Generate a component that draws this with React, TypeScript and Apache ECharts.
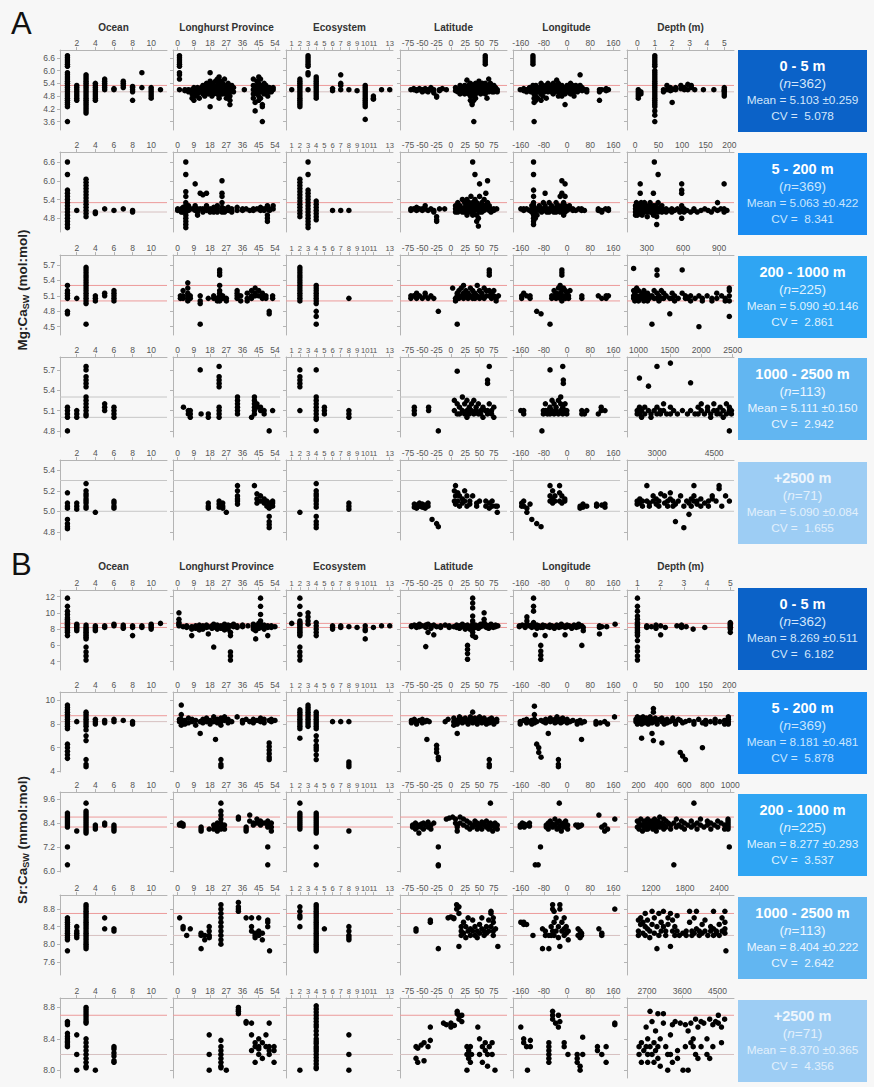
import React, { useEffect, useRef } from 'react';
import * as echarts from 'echarts';

// ---------- DATA (groups: [x, y1, y2, ...]) ----------
// Panel A : Mg:Ca_sw (mol:mol)
const A1_ocean = [[1,6.7,6.6,6.5,6.4,6.3,6.2,5.9,5.8,5.7,5.6,5.5,5.4,5.3,5.2,5.1,5.0,4.9,4.8,4.7,4.6,4.5,4.4,4.3,3.6],[2,5.3,5.2,5.1,5.0,4.9,4.8,4.7,4.6],[3,5.8,5.7,5.6,5.5,5.4,5.3,5.2,5.1,5.0,4.9,4.8,4.7,4.6,4.5,4.4,4.3,4.2,4.1,4.0],[4,5.4,5.3,5.2,5.1,5.0,4.9,4.8,4.7,4.6],[5,5.6,5.5,5.4,5.3,5.2,5.1],[6,5.15,5.1],[7,5.5,5.4,5.3,5.2],[8,5.25,5.2,5.1,5.0,4.6],[9,5.9,5.2],[10,5.2,5.1,5.0,4.9,4.8,4.7],[11,5.1]];
const A1_longhurst = [[1,6.7,6.6,6.5,6.4,6.3,6.2,5.9,5.8,5.6,5.1],[4,5.1,5.05],[6,5.0,5.1],[8,5.1,5.0,4.9,4.7],[9,5.2,5.1,5.0,4.6],[10,5.15,5.0,4.8],[11,5.2,5.1,4.9],[12,5.1,5.0,4.7],[13,5.2,5.1,5.0],[14,5.3,5.1,4.9],[15,5.2,5.0,4.8],[16,5.4,5.1,5.0],[17,5.3,5.2,5.0,4.9],[18,5.9,5.5,5.3,5.1,5.0,4.3],[19,5.4,5.2,5.0,4.8],[20,5.3,5.1,4.9],[21,5.5,5.2,5.0],[22,5.6,5.3,5.1,4.9],[23,5.7,5.5,5.4,5.3,5.2,5.1,5.0,4.9,4.8,4.7],[24,5.5,5.2,5.0],[25,5.4,5.1,4.9],[26,5.6,5.3,5.0],[27,5.3,5.1,4.9,4.7],[28,5.4,5.2,5.0],[29,5.2,5.0,4.8,4.6,4.4],[30,5.3,5.1],[31,5.2,5.0],[37,5.1],[42,5.6,5.3,5.1,4.9,4.7],[43,5.2,5.0,4.5,4.1],[44,5.5,5.3,5.1,4.9],[45,5.7,5.4,5.2,5.0,4.8,4.6],[46,5.6,5.3,5.1,5.0,4.7],[47,5.2,5.0,4.4,4.3,3.6],[48,5.4,5.2,5.1,4.9],[49,5.3,5.1,5.0],[50,5.2,5.1,4.8],[51,5.2,5.0],[52,5.1,5.0],[53,5.2,5.1]];
const A1_ecosystem = [[1,5.1],[2,5.6,5.5,5.4,5.3,5.2,5.1,5.0,4.9,4.8,4.7,4.6,4.5,4.4,4.3],[3,6.7,6.6,6.5,6.4,6.3,6.2,5.9,5.8,5.1],[4,5.7,5.6,5.5,5.4,5.3,5.2,5.1,5.0,4.9,4.8,4.7],[6,5.15,5.05],[7,5.8,5.4,5.3,5.1],[8,5.1],[9,5.05],[10,5.3,5.2,5.1,5.0,4.9,4.8,4.7,4.6,4.5,4.4,4.3,3.7],[11,4.8,4.7,4.65],[12,5.1],[13,5.1]];
const A1_latitude = [[-70,5.1],[-65,5.15,5.1],[-60,5.1,5.05],[-55,5.15,5.1],[-50,5.1,5.0],[-45,5.15,5.05],[-40,5.1,5.0],[-35,5.2,5.1],[-30,5.1,4.95],[-25,4.8,4.75],[-20,5.1,5.05],[-15,5.15],[-8,5.1],[8,5.2,5.05],[12,5.1,5.0],[16,5.3,5.1,4.9],[20,5.2,5.0],[24,5.3,5.1,4.9],[28,5.55,5.2,5.0],[31,5.3,5.1,4.9],[34,5.4,5.2,5.0,4.8,4.6],[37,5.3,5.1,4.9,4.5,4.4],[40,5.2,5.0,4.8,4.6,3.6],[43,5.4,5.1,4.9,4.7],[46,5.3,5.2,5.0],[49,5.5,5.2,5.0],[52,5.3,5.1,4.9],[55,5.4,5.2,5.0],[58,5.2,5.1],[60,6.7,6.6,6.5,6.4,6.3,5.4,5.2,5.1,4.9],[63,5.3,5.1,4.7],[66,5.6,5.2,5.0],[69,5.4,5.1],[72,5.2,5.0],[75,5.3,5.1,5.0],[78,5.2,5.1],[81,5.1,5.0]];
const A1_longitude = [[-162,5.1],[-150,5.15,5.05],[-140,5.1,5.0],[-130,5.2,5.1],[-125,5.1,5.0],[-118,6.7,6.6,6.5,6.4,6.3,5.3,5.1,5.0],[-114,5.2,4.9,4.7,4.5,3.6],[-108,5.3,5.1,4.8,4.6],[-102,5.1,5.0,4.7],[-96,5.2,5.0],[-90,5.4,5.1,4.9,4.6],[-84,5.3,5.1,4.8],[-78,5.2,5.0],[-72,5.3,5.1,4.7],[-66,5.4,5.2,5.0],[-60,5.3,5.1],[-54,5.2,5.0],[-48,5.4,5.1,4.9],[-42,5.3,5.1,5.0],[-36,5.55,5.3,5.1],[-30,5.4,5.2,5.0,4.8],[-24,5.2,5.1],[-18,5.3,5.0,4.8],[-12,5.2,5.1],[-7,5.1,4.9,4.4],[0,5.3,5.1,5.0],[6,5.2,5.0],[12,5.4,5.1,4.9],[18,5.3,5.1],[24,5.2,5.0,4.8],[30,5.3,5.1],[36,5.2,5.0],[45,5.8,5.3,5.1],[52,5.2,5.05],[60,5.1],[68,5.1,5.0],[112,5.1,5.0,4.6],[120,5.1],[135,5.15,5.05],[143,5.1]];
const A1_depth = [[0.05,5.1,5.0,4.9,4.8,4.7],[0.2,5.0,4.9],[1,6.7,6.6,6.5,6.4,6.3,6.2,6.0,5.9,5.8,5.7,5.6,5.5,5.4,5.3,5.2,5.1,5.0,4.9,4.8,4.7,4.6,4.5,4.4,4.3,4.1,3.9,3.6],[1.5,5.1,5.0],[1.7,5.3,5.1],[1.9,5.2,5.05],[2.0,5.1,4.5],[2.2,5.2,5.1],[2.5,5.3,5.15],[2.7,5.2,5.1],[2.9,5.35,5.1],[3.1,5.3,5.2],[3.3,5.1],[3.8,5.1],[4.4,5.1],[5,5.2,5.1,5.05,5.0,4.9,4.8]];

const A2_ocean = [[1,6.6,6.2,5.7,5.6,5.5,5.4,5.3,5.2,5.1,5.0,4.9,4.8,4.7,4.6,4.5],[2,5.05],[3,6.05,5.95,5.85,5.75,5.65,5.55,5.45,5.35,5.25,5.15,5.05,4.95,4.85],[4,5.0,4.95],[5,5.1],[6,5.05],[7,5.1],[8,5.05,5.0]];
const A2_longhurst = [[0,5.1,5.05],[2,5.1,5.0],[3,5.15,5.0],[4.5,6.6,6.2,5.65,5.5,5.3,5.2,5.1,5.0,4.9,4.8,4.7,4.6,4.5],[6,5.2,5.05],[8,5.1],[9.7,5.9,5.2,5.05],[11,5.1,5.0,4.9],[12.5,5.6,5.1],[14,5.55,5.1,5.0],[16,5.6,5.2,5.05],[18,5.1,5.0],[20,5.15,5.05,5.0],[22,5.2,5.1,5.0],[24.6,6.0,5.6,5.5,5.3,5.15,5.05,5.0],[26,5.1,5.05,5.0],[28,5.15,5.05],[30,5.1,5.0],[33,5.15,5.05],[36,5.1,5.05],[38,5.1],[40,5.05],[42,5.1,5.05],[44,5.1],[46,5.15,5.05],[48,5.1,5.05],[49.8,5.2,5.1,4.9,4.8,4.7],[51,5.1,5.05],[53,5.2,5.1]];
const A2_ecosystem = [[2,6.05,5.95,5.85,5.75,5.65,5.55,5.45,5.35,5.25,5.15,5.05,4.95,4.85],[3,6.6,6.2,5.7,5.6,5.5,5.4,5.3,5.2,5.1,5.0,4.9,4.8,4.7,4.6,4.5],[4,5.35,5.25,5.15,5.05,4.95,4.85,4.75],[6,5.05],[7,5.05],[8,5.05]];
const A2_latitude = [[-70,5.1,5.05],[-65,5.1],[-60,5.15,5.05],[-55,5.1],[-50,5.1,5.05],[-45,5.2,5.1],[-40,5.05],[-35,5.1],[-30,5.05,5.0],[-25,4.85,4.75,4.7],[-20,5.1],[-11,5.1],[8,5.2,5.1,5.0],[12,5.3,5.1,5.0],[16,5.2,5.05],[20,5.4,5.1,5.0],[24,5.3,5.15,5.0],[28,5.4,5.2,5.05,4.9],[32,5.3,5.1,5.0],[35,5.5,5.2,5.05],[38,6.6,5.3,5.1,5.0,4.9],[42,6.2,5.4,5.2,5.05],[45,5.3,5.1,4.9,4.7],[48,5.2,5.05,4.8,4.55],[50,5.9,5.5,5.2,5.0],[54,5.3,5.1,5.0],[58,5.4,5.2,5.05],[61,5.6,5.2,5.1],[64,6.0,5.3,5.1],[67,5.2,5.05],[70,5.1,5.0],[75,5.1,5.05],[80,5.1]];
const A2_longitude = [[-160,5.1],[-150,5.05,5.1],[-140,5.1],[-130,5.05],[-122,5.2,5.1,5.0],[-116,6.6,6.2,5.7,5.5,5.3,5.2,5.1,5.0,4.9,4.8,4.7,4.6],[-110,5.1,5.0,4.8],[-104,5.1,4.9],[-96,5.2,5.05],[-88,5.1,5.0],[-82,5.3,5.1],[-76,5.6,5.2,5.05],[-70,5.1,5.0],[-62,5.3,5.1,5.0],[-54,5.2,5.05],[-46,5.1,5.0],[-38,5.3,5.15,5.0],[-30,5.2,5.05],[-24,5.5,5.1,5.0],[-18,6.0,5.6,5.2,5.05],[-12,5.3,5.1,4.9],[-7,5.9,5.5,5.2,5.0],[0,5.1,5.05],[8,5.2,5.1],[20,5.1,5.05],[30,5.05],[40,5.1],[50,5.05,5.1],[60,5.05],[108,5.1,5.05],[120,5.05,5.0],[133,5.1],[143,5.1,5.05]];
const A2_depth = [[1,5.2,5.1,5.0,4.9],[3,5.3,5.1,5.0],[5,5.2,5.05,4.9],[7,5.15,5.0],[9,5.1,4.95],[11,5.9,5.6,5.2,5.05],[13,5.3,5.1,5.0],[15,5.2,5.05,4.9],[18,5.1,5.0],[20,5.3,5.15,5.0],[23,5.2,5.05],[26,5.1,5.0,4.85],[29,5.2,5.05],[32,5.3,5.1,5.0],[35,5.15,5.0],[39,5.6,5.2,5.05,4.9],[41,6.6,5.1,5.0],[44,5.2,5.05],[46,5.1,4.85,4.6],[49,6.2,5.3,5.1,5.0],[53,5.15,5.05],[57,5.2,5.1,5.0],[61,5.05],[66,5.1,5.0],[72,5.05],[78,5.1,5.0],[84,5.05],[90,5.1],[95,5.0],[99,5.9,5.7,5.6,5.2,5.05,4.8],[104,5.1,5.0],[110,5.05],[118,5.0],[125,5.05,5.1],[132,5.0],[140,5.05],[148,5.1],[155,5.05],[162,5.0],[168,5.1],[175,5.3,5.05],[182,5.1],[189,5.9,5.1,5.0],[195,5.05]];

const A3_ocean = [[1,5.3,5.2,5.15,5.1,5.05,4.8,4.75],[2,5.05],[3,5.65,5.6,5.55,5.5,5.45,5.4,5.35,5.3,5.25,5.2,5.15,5.1,5.05,5.0,4.95,4.55],[4,5.1,5.05,5.0],[5,5.15,5.1],[6,5.2,5.15,5.1,5.05,5.0]];
const A3_longhurst = [[1.5,5.1,5.05],[3,5.2,5.1,5.05],[5.6,5.35,5.25,5.15,5.1,5.05,5.0],[7,5.05,5.1],[12.5,5.1,5.0,4.95,4.55],[17,5.05],[20,5.1,5.05],[22,5.05,5.0],[23.3,5.6,5.55,5.5,5.3,5.2,5.15,5.1,5.05,5.0],[25,5.1,5.05],[27,5.05,5.0],[33,5.2,5.15,5.1,5.05],[35,5.1,5.0],[38.6,5.15,5.05,5.0],[41,5.2,5.1,5.05],[43,5.25,5.15,5.1],[45,5.2,5.1],[47,5.15,5.1,5.05],[49,5.1,5.05],[50.8,4.8,4.75],[52.7,5.1,5.05]];
const A3_ecosystem = [[2,5.65,5.6,5.55,5.5,5.45,5.4,5.35,5.3,5.25,5.2,5.15,5.1,5.05,5.0],[4,5.3,5.25,5.2,5.15,5.1,5.05,5.0,4.95,4.8,4.7,4.55],[8,5.05]];
const A3_latitude = [[-70,5.1,5.05],[-65,5.1],[-60,5.15,5.05],[-55,5.1],[-50,5.05],[-45,5.1,5.15],[-40,5.05],[-35,5.1],[-30,5.05],[-22,4.8],[3,5.25],[8,5.05,5.0],[11,4.55,5.15,5.1],[14,5.2,5.05],[18,5.25,5.1],[22,5.3,5.15,5.05],[26,5.2,5.1],[30,5.15,5.05],[34,5.25,5.1],[38,5.2,5.1,5.05],[42,5.15,5.05],[46,5.3,5.1],[50,5.2,5.05],[54,5.15,5.1],[58,5.25,5.05],[62,5.2,5.1],[67,5.6,5.55,5.5,5.2,5.1],[71,5.15,5.05],[75,5.1,5.2],[79,5.05,5.0],[83,5.1]];
const A3_longitude = [[-157,5.1,5.05],[-150,5.15],[-140,5.1],[-128,5.05,5.1],[-105,4.8],[-90,4.75],[-59,4.55],[-53,5.1,5.05],[-45,5.2,5.1],[-38,5.15,5.05],[-30,5.25,5.1],[-24,5.3,5.15,5.05],[-18,5.6,5.55,5.5,5.2,5.1,5.0],[-12,5.25,5.1],[-6,5.2,5.05],[0,5.15,5.1],[5,5.1,5.05],[10,5.2],[51,5.05,5.1],[108,5.1],[120,5.05],[135,5.1,5.05],[143,5.1]];
const A3_depth = [[190,5.63,5.2,5.1,5.05],[200,5.15,5.0],[215,5.25,5.1,5.05],[230,5.2,5.05,5.0],[245,5.1],[260,5.15,5.05],[275,5.2,5.1,5.0],[290,5.1,5.05],[305,5.15,5.0],[320,5.1,5.05],[342,5.1,4.55],[360,5.2,5.05],[384,5.6,5.5,5.15,5.05],[400,5.1,5.0],[420,5.2,5.05],[440,5.15,5.05],[460,5.1],[490,5.05,4.75],[510,5.15,5.05],[530,5.1,5.0],[560,5.05],[593,5.6,5.15],[620,5.1,5.05],[640,5.05],[663,5.1,5.0],[700,5.05],[732,5.1,4.5],[760,5.0,5.05],[800,5.1],[840,5.05,5.0],[880,5.15,5.05],[920,5.1],[950,5.05,5.0],[984,5.25,5.2,5.1,5.0,4.7]];

const A4_ocean = [[1,5.15,5.1,5.05,5.0,4.8],[2,5.1,5.05,5.0],[3,5.75,5.7,5.6,5.55,5.5,5.45,5.3,5.25,5.2,5.15,5.1,5.05,5.02],[5,5.2,5.15,5.1],[6,5.15,5.1,5.05,5.0]];
const A4_longhurst = [[3.2,5.15],[5.9,5.1,5.05],[7,5.05,5.0,5.1],[12.5,5.7],[13,5.05],[17,5.05,5.0],[23,5.75,5.6,5.55,5.5,5.45,5.15,5.1,5.05,5.0],[33.2,5.3,5.25,5.2,5.15,5.1,5.05],[41,5.0],[42.6,5.3,5.25,5.2,5.15,5.1,5.05],[44,5.2,5.15],[46,5.15,5.1],[48,5.1,5.05],[50.8,4.8],[52.7,5.1]];
const A4_ecosystem = [[2,5.7,5.6,5.55,5.5,5.45,5.1],[4,5.7,5.3,5.25,5.2,5.15,5.1,5.05,5.0,4.97,4.8],[5,5.15,5.1,5.05],[8,5.1,5.05,5.0]];
const A4_latitude = [[-64,5.15,5.1,5.05],[-39,5.15,5.1],[-22,4.8],[6,5.25,5.1],[11,5.68,5.2,5.05],[15,5.15,5.05],[20,5.3,5.1],[24,5.2,5.05],[28,5.25,5.1,5.0],[32,5.15,5.05],[36,5.2,5.1],[40,5.25,5.05],[44,5.15,5.1],[48,5.2,5.05],[52,5.1,5.05],[56,5.15,5.0],[60,5.1],[64,5.55,5.5,5.1,5.05],[67,5.75,5.2],[71,5.1,5.05],[75,5.15,5.0]];
const A4_longitude = [[-160,5.1],[-150,5.1,5.05],[-87,4.8],[-82,5.1,5.05],[-75,5.2,5.1],[-68,5.1,5.05],[-59,5.7,5.15,5.05],[-52,5.25,5.1],[-45,5.2,5.05],[-38,5.15,5.1],[-30,5.25,5.05],[-22,5.3,5.2,5.1],[-15,5.75,5.15,5.05],[-13,5.55,5.5],[-7,5.2,5.1],[-1,5.1,5.05],[51,5.05,5.1],[60,5.05],[68,5.1],[108,5.05],[118,5.1,5.15],[131,5.1]];
const A4_depth = [[980,5.1,5.05],[1016,5.58,5.15,5.05],[1050,5.1,5.0],[1100,5.15,5.05],[1160,5.46,5.1],[1200,5.05,5.0],[1250,5.1],[1295,5.75,5.15,5.05],[1350,5.1,5.05],[1400,5.2,5.1],[1450,5.05],[1509,5.8,5.15,5.05],[1560,5.1],[1620,5.05],[1700,5.1],[1780,5.05],[1830,5.51,5.1],[1900,5.05],[1950,5.15,5.05],[2000,5.2,5.1],[2050,5.05],[2100,5.15,5.1],[2150,5.05,5.0],[2200,5.2,5.1],[2250,5.1,5.05],[2300,5.15,5.05],[2350,5.1,5.0],[2400,5.2,5.05],[2447,5.15,5.1,4.8],[2480,5.1,5.05]];

const A5_ocean = [[1,5.18,5.08,5.05,5.03,4.92,4.88,4.85,4.83],[2,5.08,5.05,5.02],[3,5.27,5.2,5.17,5.15,5.12,5.1,5.08,5.05,5.03],[4,4.99],[6,5.1,5.08,5.05,5.03]];
const A5_longhurst = [[17,5.08,5.05,5.03],[23,5.1,5.07,5.04],[25,5.08,5.05,5.03],[27,4.99],[33.2,5.25,5.2,5.15,5.12,5.1,5.07],[42.6,5.25],[44,5.17,5.12,5.08],[46,5.15,5.1],[48,5.12,5.08],[49.5,5.1,5.05],[50.8,5.08,5.05,5.03,4.95,4.9,4.87,4.84],[52.7,5.08,5.05,5.1]];
const A5_ecosystem = [[2,4.99],[4,5.27,5.2,5.17,5.15,5.12,5.1,5.07,5.04,4.95,4.9,4.87,4.84],[8,5.08,5.05,5.02]];
const A5_latitude = [[-64,5.07,5.04],[-60,5.06,5.03],[-55,5.08,5.05],[-50,5.07,5.04],[-45,5.06,5.03],[-40,5.08,5.05],[-33,4.92],[-25,4.88],[-22,4.85],[6,5.2,5.1],[8,5.25,5.15,5.07],[12,5.18,5.1],[15,5.15,5.05],[20,5.12,5.08],[24,5.2,5.1],[28,5.15,5.05],[33,5.1,5.07],[38,5.15],[45,5.08,5.05],[50,5.1],[61,5.1,5.05],[67,5.08,5.03],[72,5.1,5.05],[78,5.05],[81,4.99,5.05]];
const A5_longitude = [[-157,5.08,5.05],[-150,5.1,5.05],[-139,4.99,5.03],[-128,5.07],[-122,4.92],[-105,4.88],[-90,4.85],[-59,5.25,5.15,5.1],[-50,5.2,5.12,5.08],[-42,5.15,5.1],[-26,5.25,5.18,5.1],[-18,5.15,5.08],[-8,5.12,5.1],[45,5.05,5.03],[55,5.07,5.04],[68,5.05],[102,5.07,5.05],[120,5.06],[131,5.07,5.04]];
const A5_depth = [[2480,5.1,5.07],[2550,5.12,5.08],[2620,5.05,5.1],[2735,5.25,5.1],[2800,5.08,5.05],[2900,5.15,5.1],[2980,5.12,5.07],[3050,5.1,5.05],[3100,5.17],[3200,5.15,5.08],[3280,5.1,5.05],[3350,5.18,5.12],[3420,5.1,5.05],[3485,4.9,5.07],[3560,5.1],[3620,5.15],[3705,4.84,5.05],[3780,5.1],[3840,4.97,5.08],[3900,5.12,5.05],[3970,5.25,5.15,5.1],[4050,5.1,5.07],[4150,5.12,5.05],[4250,5.08],[4350,5.1,5.05],[4450,5.15,5.12],[4550,5.1],[4630,5.25,5.22],[4700,5.05],[4800,5.15],[4900,5.1]];

// Panel B : Sr:Ca_sw (mmol:mol)
const B1_ocean = [[1,11.8,10.8,10.2,9.8,9.4,9.2,9.0,8.8,8.6,8.4,8.2,8.0,7.8,7.6,7.2],[2,8.6,8.4,8.2,8.0,7.8],[3,8.5,8.2,8.0,7.8,7.6,7.4,7.2,7.0,6.8,5.8,5.2,4.7,4.2],[4,8.4,8.2,8.0,7.8],[5,8.4,8.2],[6,8.6,8.4],[7,8.5,8.3,8.1],[8,8.4,8.2,7.2],[9,8.4,8.2],[10,8.6,8.4,8.2,8.0],[11,8.7]];
const B1_longhurst = [[0.7,10.0,9.2,8.8,8.6,8.4],[3,8.3],[5,8.4,8.2],[7.8,8.3,8.0,7.2],[10,8.4,8.1],[12,8.5,8.2,7.9],[14,8.4,8.0],[16,8.5,8.2],[17,8.3,7.4],[19,8.4,8.1],[20,8.6,8.2,5.8],[22,8.5,8.3,8.0],[24,8.4,8.1],[26,8.6,8.2,7.9],[28,8.5,8.3,8.0],[29.3,8.4,7.6,7.2,5.2,4.7,4.2],[31,8.6,8.3],[33,8.4,8.2],[36,8.5,8.3],[39,8.4],[42,8.6,8.3,8.0],[43.3,8.4,7.8,6.8],[45,8.7,8.4,8.1],[46,11.8,10.8,9.8,9.0,8.6,8.2],[48,8.5,8.3,8.0],[50,8.4,8.2,7.2],[52,8.4,8.2],[54,8.3]];
const B1_ecosystem = [[1,8.7],[2,11.8,10.8,9.8,9.0,8.8,8.6,8.4,8.2,8.0,7.8,7.6,7.4,7.2,5.8,5.2,4.7,4.2],[3,10.0,9.5,9.0,8.6],[4,8.8,8.4,8.0,7.6,7.2],[6,8.4,8.2,8.0],[7,8.4,8.2],[8,8.3],[9,8.2],[10,8.4,8.0,7.8,6.8],[11,8.2],[12,8.4],[13,8.4]];
const B1_latitude = [[-69,8.4,8.3],[-64,8.5],[-60,8.4,8.2],[-55,8.6,8.3],[-50,8.4],[-44,8.5,8.2,5.85],[-40,8.6,7.6],[-35,8.4,8.1],[-30,8.5,7.3],[-25,8.3],[-18,8.4,8.2],[-10,8.5],[-3,8.4,8.2],[5,8.3],[10,8.5,8.2],[15,8.4,8.1],[20,8.6,8.3],[25,8.4,8.0],[29,8.5,8.2,6.0,5.5,5.0,4.3],[33,8.3,8.0],[38,11.8,11.2,10.6,9.6,9.0,8.6,8.4,8.0,7.6,7.2],[43,8.5,8.2,7.0],[48,8.4,8.1],[52,8.6,8.3],[58,10.0,9.2,8.8,8.4],[62,8.5,8.2],[66,8.4,8.1],[70,8.6,8.3],[74,8.4,8.2],[78,8.5,8.3],[82,8.4]];
const B1_longitude = [[-165,8.4,8.3],[-155,8.5],[-145,8.4,8.2],[-139,9.5,9.0,8.6],[-130,8.4],[-122,8.5,8.2],[-116,11.8,10.8,10.2,8.8,8.4],[-110,8.3,7.3],[-104,8.5,8.1],[-98,8.4],[-91,8.2,6.0,5.3,4.8,4.3],[-84,8.5,8.2],[-76,8.4,7.2],[-68,8.3],[-60,8.5,8.2],[-52,8.4],[-44,8.3,8.1],[-36,8.5],[-28,8.4,8.2],[-20,8.6,8.3],[-13,8.4],[-7,8.2,7.3],[0,8.5,8.3],[8,8.4],[16,8.3,8.1],[24,8.5],[32,8.4,8.2],[40,8.6,8.3],[51,8.4,6.0],[56,8.2,7.8],[112,8.4,8.2,7.4],[120,8.3],[137,8.3],[166,8.6]];
const B1_depth = [[1,11.8,10.8,10.2,9.6,9.2,8.8,8.6,8.4,8.2,8.0,7.8,7.6,7.4,7.2,6.6,5.8,5.3,4.7,4.2],[1.4,8.4,8.2],[1.6,8.3],[1.8,8.5,8.1],[2.0,8.4,7.3],[2.2,8.2],[2.7,8.4],[2.9,8.2,8.5],[3.1,8.3],[3.4,8.0],[3.9,8.2],[5,8.8,8.6,8.4,8.2,8.0,7.6]];

const B2_ocean = [[1,9.6,9.4,9.2,9.0,8.8,8.6,8.4,8.2,8.0,7.8,7.6,6.3,6.0,5.7,5.4,5.1],[2,8.2],[3,9.0,8.8,8.6,8.4,8.2,8.0,7.8,7.5,7.0,6.6,5.0,4.6,4.4],[4,8.4,8.2,8.0],[5,8.3,8.1],[6,8.4,8.2],[7,8.3],[8,8.2,8.0]];
const B2_longhurst = [[1,8.4,8.2],[2,9.6,8.8,8.4,8.2,7.9],[4,8.3,8.0],[6,8.5,8.1],[8,8.4,8.2],[10,8.3,7.9],[12.5,8.2,7.2],[14,8.4,8.1],[16,8.5,8.2],[18,8.3,8.0],[20,8.6,8.2],[21,6.7],[22,8.4,8.1],[24,8.5,8.2,7.9,5.0,4.6,4.4],[26,8.6,8.3],[28,8.4,8.1],[30,8.2],[33,8.6],[36,8.3,8.1],[38,8.4],[40,8.2],[42,8.4,8.1],[44,8.3],[46,8.5,8.2],[48,8.4,8.1],[50.8,8.3,6.4,6.1,5.8,5.5,5.2,5.0],[52,8.4,8.2],[54,8.3]];
const B2_ecosystem = [[2,9.2,9.0,8.8,8.6,8.4,8.2,8.0,7.8,7.6,6.8],[3,9.6,9.4,9.2,9.0,8.8,8.6,8.4,8.2,8.0,7.8],[4,9.0,8.8,8.6,8.4,8.2,8.0,7.8,7.6,7.0,6.6,6.2,6.0,5.8,5.4,5.0],[6,8.2],[7,8.2],[8,8.2,4.8,4.6,4.4]];
const B2_latitude = [[-69,8.3,8.1],[-64,8.4],[-60,8.2,8.0],[-55,8.3],[-50,8.4,8.1],[-45,8.2],[-42,8.3,6.7],[-38,8.2],[-25,6.2,5.9,5.6],[-22,5.2,5.0],[-10,8.2],[-5,8.4],[5,8.5,8.2,7.9],[11,8.3,8.0,7.2],[15,8.6,8.2],[20,8.4,8.1],[25,8.5,8.2],[30,8.3,8.0],[34,8.6,8.3],[38,9.0,8.4,8.1],[42,8.5,8.2],[46,8.3,8.0],[50,8.6,8.3],[54,8.4,8.1],[58,8.5,8.2],[62,8.3,8.0],[67,8.4,8.1,5.0,4.6,4.4],[71,8.5,8.2],[75,8.3,8.0],[80,8.4,8.2]];
const B2_longitude = [[-162,8.2,8.0],[-150,8.3],[-140,8.4,8.1],[-130,8.2],[-122,8.3,8.0],[-113,9.5,8.8,8.4,8.1],[-105,8.2,6.3],[-98,6.0,5.6],[-90,8.3,5.2],[-82,8.2],[-74,8.4,8.1],[-65,8.3,7.2],[-58,8.5,8.2],[-50,8.3],[-42,8.4,8.1],[-35,8.6,8.2],[-30,8.3,5.0,4.6,4.4],[-22,8.4,8.1],[-15,8.5,8.2],[-8,8.3],[0,8.4,8.1],[10,8.2],[20,8.3],[35,8.2,8.0],[45,8.3],[50,8.1,6.7],[60,8.2],[100,8.2,8.0],[115,8.1],[130,8.2],[140,8.0],[164,8.6]];
const B2_depth = [[2,8.4,8.2],[5,8.6,8.3,8.0],[8,8.4,8.1],[11,8.5,8.2],[14,8.3,8.0,6.8],[17,8.6,8.2],[20,8.4,8.1],[24,8.5,8.2],[28,8.3,8.0],[32,8.6,8.2],[36,8.4,8.1,7.2],[39,9.3,9.0,8.3,6.6],[43,8.5,8.2],[47,8.3,8.0],[52,8.4],[57,8.5,8.2,6.4],[62,8.3,8.0],[68,8.4,8.1],[74,8.2],[80,8.5,8.3],[86,8.2,8.0],[92,8.4],[96,8.3,5.6],[101,8.1,5.3],[107,8.2,5.0],[115,8.3],[125,8.2,8.0],[135,8.4],[143,8.1,6.0],[150,8.3,8.0],[160,8.2],[170,8.4,8.1],[180,8.2],[190,8.3,8.0],[198,8.6,8.4,8.2,8.0]];

const B3_ocean = [[1,8.9,8.8,8.7,8.6,8.5,8.4,8.3,8.2,7.2,6.3],[2,8.0],[3,9.4,9.0,8.9,8.8,8.7,8.6,8.5,8.4,8.3,8.2,8.1,8.0,7.9],[4,8.3,8.2,8.1],[5,8.4,8.3],[6,8.3,8.2,8.1,8.0]];
const B3_longhurst = [[1,8.35,8.3],[2,8.4,8.3],[3,8.35,8.25],[13,8.2,8.1,8.0],[17.5,8.1],[20,8.3,8.1],[22,8.4,8.2,8.0],[24,9.4,9.0,8.8,8.6,8.4,8.2,8.1],[26,8.3,8.1],[33.7,8.7,8.6],[38,8.2,8.1,8.0],[40,8.8,8.5],[42,8.4,8.3],[44,8.6,8.4],[46,8.5,8.3],[48,8.4],[50,8.5,8.3,8.2,7.2,6.3],[52,8.4,8.2,8.0]];
const B3_ecosystem = [[2,9.4,8.9,8.8,8.7,8.6,8.5,8.4,8.3,8.2,8.1],[4,8.9,8.8,8.7,8.6,8.5,8.4,8.3,8.2,8.1,8.0,7.9,7.2,6.3],[8,8.0]];
const B3_latitude = [[-67,8.3,8.2],[-62,8.4,8.1],[-58,8.3,8.2],[-56,7.9],[-52,8.35,8.2],[-48,8.4,8.1],[-44,8.3],[-40,8.45,8.2],[-35,8.3,8.1],[-30,8.4],[-22,7.2,6.3,6.25],[-8,8.6],[-3,8.65],[3,8.7],[8,8.6,8.4],[11,8.3,8.2,8.0],[16,8.7,8.4],[22,8.6,8.3],[28,8.5,8.2],[33,8.4,8.1],[38,8.3,8.2],[42,8.5,8.3],[46,8.4,8.1],[50,8.3,8.2],[54,8.45,8.1],[58,8.4,8.3],[62,8.5,8.2],[66,8.3,8.1],[69,9.4,8.4,8.2],[73,8.3,8.0],[77,8.4,8.2],[81,8.3,8.1]];
const B3_longitude = [[-162,8.3,8.2],[-155,8.4],[-148,8.35,8.2],[-140,8.3],[-130,8.4,8.25],[-110,6.3],[-100,6.3],[-92,7.2],[-72,8.3,8.2],[-65,8.4,8.1],[-58,8.5,8.3],[-50,8.35,8.2],[-42,8.6,8.3],[-35,8.4,8.1],[-27,9.4,8.5,8.2],[-20,8.3,8.0],[-12,8.4,8.2],[-5,8.5,8.3],[2,8.3,8.1],[30,8.3],[38,8.2,8.3],[45,8.25],[50,8.3],[110,8.8],[120,8.2],[130,8.3,8.0],[140,8.1],[165,8.6]];
const B3_depth = [[190,8.5,8.2],[205,8.4,8.1],[220,8.6,8.3],[235,8.3,8.0],[250,8.5,8.2],[265,8.4,8.1],[280,8.6,8.3,8.1],[295,8.4,8.2],[310,8.5],[325,8.3,8.1],[340,8.6,8.4],[355,8.2,8.0],[370,8.5,8.3],[385,8.7,8.2],[400,8.4],[420,8.6,8.3,8.1],[440,8.5,8.2],[460,8.4],[480,8.3,8.1],[508,8.4,6.3],[530,8.6,8.2],[550,8.3],[575,8.5,8.2],[600,8.4,8.1],[630,8.3],[660,8.5,8.2],[683,9.4,8.3],[710,8.4,8.1],[740,8.6,8.3],[770,8.2],[800,8.5,8.3],[830,8.4,8.1],[860,8.3],[890,8.5,8.2],[920,8.4],[950,8.3,8.1],[980,8.6,8.5,8.4,8.3,8.2,8.1],[991,7.2]];

const B4_ocean = [[1,8.6,8.55,8.5,8.45,8.4,8.35,8.3,8.25,8.2,8.15,8.1,7.85],[2,8.4,8.3,8.25,8.2,8.15],[3,8.9,8.85,8.8,8.75,8.7,8.65,8.6,8.55,8.5,8.45,8.4,8.35,8.3,8.25,8.2,8.15,8.1,8.05,8.0,7.95,7.9],[5,8.6,8.35],[6,8.35,8.3]];
const B4_longhurst = [[1.1,8.6],[3,8.4,8.35],[5,8.2],[7,8.35],[13,8.25,8.2,7.9],[15,8.2,8.1],[17.5,8.4,8.3,8.2,8.15],[24,8.9,8.8,8.7,8.6,8.5,8.4,8.3,8.2,8.1,8.0],[33.7,8.95,8.85,8.8,8.75],[38,8.6],[41,8.6,8.4,8.3],[43,8.25,8.2,8.15],[45,8.3,8.6,8.2],[47,8.25,8.1],[50,8.55,8.5,8.4],[51,7.85]];
const B4_ecosystem = [[2,8.85,8.75,8.65,8.6,8.4],[4,8.9,8.85,8.8,8.75,8.7,8.65,8.6,8.55,8.5,8.45,8.4,8.35,8.3,8.25,8.2,8.15,8.1,8.05,8.0,7.95,7.9,7.85],[5,8.35],[8,8.4,8.3,8.2,8.15,8.1]];
const B4_latitude = [[-61,8.35,8.3],[-36,8.55,8.5],[-22,7.9],[-5,8.6],[0,8.62],[5,8.6,8.58],[10,8.9,8.8],[14,8.85,8.7,7.95],[18,8.4,8.3,8.2],[22,8.5,8.25],[26,8.4,8.15],[30,8.6,8.3],[34,8.35,8.2],[38,8.55,8.3],[42,8.4,8.2],[46,8.3,8.15],[50,8.45,8.25],[54,8.6,8.35],[58,8.3,8.2],[62,8.4,8.25],[66,8.55,8.3],[70,8.75,8.7,8.4],[74,8.6,8.5,8.3,8.2],[78,8.35],[82,7.95]];
const B4_longitude = [[-160,8.5],[-150,8.5,8.45],[-140,8.45],[-118,8.2],[-85,8.35,7.9],[-75,8.3,8.2],[-63,8.2,7.9],[-55,8.4,8.2],[-50,8.9,8.8,8.3],[-45,8.75,8.5,8.2],[-38,8.6,8.3],[-30,8.4,8.15],[-25,8.9,8.8,7.95],[-18,8.5,8.3],[-10,8.6,8.35,8.2],[-3,8.4,8.25],[4,8.3,8.1],[38,8.35,8.2],[45,8.3,8.15],[50,8.25,8.2],[110,8.35],[120,8.25,8.2],[165,8.8]];
const B4_depth = [[980,8.55,8.3,8.2],[1020,8.6,8.45],[1060,8.5,8.25],[1100,8.7,8.4,8.2],[1140,8.55,8.35],[1180,8.3,8.15],[1220,8.75,8.45],[1260,8.6,8.25],[1306,8.4,7.9],[1340,8.7,8.2],[1380,8.5,8.3],[1420,8.75,8.4],[1460,8.3,8.2],[1500,8.6,8.45],[1543,8.7,7.95],[1580,8.55,8.3],[1620,8.4,8.2],[1660,8.65,8.3],[1700,8.2],[1760,8.25],[1820,8.3,8.2],[1880,8.75,8.5],[1920,8.3,8.2],[1960,8.6,8.25],[2000,8.75,8.35],[2050,8.3,8.2],[2100,8.45,8.25],[2150,8.55,8.3],[2200,8.2],[2250,8.4,8.3],[2300,8.75,8.35,8.2],[2350,8.3,8.25],[2400,8.45,8.2],[2450,8.6,8.3],[2500,8.75,8.5,8.35,8.25],[2518,7.85]];

const B5_ocean = [[1,8.62,8.6,8.58,8.47,8.43,8.4,8.37,8.35,8.32,8.3],[2,8.45,8.2,8.0],[3,8.8,8.77,8.74,8.71,8.68,8.65,8.62,8.6,8.4,8.35,8.3,8.25,8.2,8.15,8.1,8.05,8.03],[4,8.0],[6,8.3,8.27,8.22,8.18,8.12,8.1]];
const B5_longhurst = [[17.5,8.45,8.2,8.0],[24,8.38,8.3,8.25,8.2,8.15,8.1,8.05,8.03],[27,8.0],[33.7,8.8,8.77,8.75,8.72],[38,8.62,8.6],[41,8.6,8.45,8.25],[43,8.35,8.3,8.1],[45,8.4,8.3,8.27,8.2],[47,8.35,8.15],[49,8.45,8.3],[50.8,8.6,8.3,8.25,8.2],[53.5,8.3,8.25,8.1]];
const B5_ecosystem = [[2,8.0],[4,8.82,8.78,8.74,8.7,8.66,8.62,8.58,8.55,8.5,8.45,8.4,8.37,8.34,8.3,8.27,8.24,8.2,8.16,8.12,8.08,8.04,8.02],[8,8.45,8.2,8.0]];
const B5_latitude = [[-61,8.3,8.15],[-58,8.28,8.1],[-52,8.32],[-47,8.35,8.12],[-40,8.3],[-36,8.55,8.38],[-13,8.6],[-8,8.58],[0,8.55,8.6],[6,8.57],[11,8.75,8.72],[14,8.7,8.65],[19,8.62,8.7],[28,8.3,8.2,8.0],[31,8.25,8.15],[34,8.1,8.3],[36,8.2],[47,8.55],[50,8.4,8.2],[55,8.3,8.1],[60,8.35,8.25],[64,8.2,8.05],[67,8.3],[72,8.35,8.2],[77,8.0]];
const B5_longitude = [[-160,8.55],[-150,8.4,8.35],[-140,8.3],[-137,8.0],[-127,8.38,8.3],[-63,8.35,8.3,8.25,8.2,8.15,8.1],[-50,8.75,8.7,8.65],[-40,8.6],[-30,8.7,8.55],[-25,8.62],[-10,8.35,8.3],[3,8.2],[35,8.2,8.15,8.1],[45,8.05,8.0],[54,8.42,8.2],[105,8.3,8.25],[120,8.2],[135,8.3,8.1],[165,8.6,8.58]];
const B5_depth = [[2500,8.3,8.2],[2560,8.35,8.1],[2620,8.25],[2680,8.55,8.3],[2720,8.4,8.2,8.1],[2780,8.75,8.3],[2830,8.62,8.2],[2880,8.35,8.1],[2920,8.5,8.25],[2980,8.72,8.3,8.15],[3040,8.4,8.05],[3120,8.72,8.6],[3180,8.3],[3230,8.2,8.0],[3300,8.45,8.2],[3350,8.58,8.1],[3420,8.62],[3480,8.25,8.15],[3550,8.6],[3620,8.0],[3680,8.58,8.3],[3750,8.5,8.0],[3820,8.6,8.35],[3880,8.4,8.3],[3940,8.65,8.2],[4000,8.55,8.15],[4080,8.62,8.3],[4150,8.6],[4230,8.4,8.2],[4300,8.65,8.15],[4380,8.58,8.3],[4450,8.62],[4520,8.7,8.6],[4600,8.55,8.35],[4680,8.65]];

// Axis ticks / ranges
const COL_TITLES = ['Ocean', 'Longhurst Province', 'Ecosystem', 'Latitude', 'Longitude', 'Depth (m)'];
const OCEAN_TICKS = [2, 4, 6, 8, 10];
const LONGHURST_TICKS = [0, 9, 18, 27, 36, 45, 54];
const ECOSYSTEM_TICKS = [1, 2, 3, 4, 5, 6, 7, 8, 9, 10, 11, 12, 13];
const LATITUDE_TICKS = [-75, -50, -25, 0, 25, 50, 75];
const LONGITUDE_TICKS = [-160, -80, 0, 80, 160];
const X_RANGES = [[0.2, 11.7], [-2.6, 56.8], [0.3, 13.4], [-89, 98], [-187, 183]];
const A_DEPTH_TICKS = [[0, 1, 2, 3, 4, 5], [0, 50, 100, 150, 200], [300, 600, 900], [1000, 1500, 2000, 2500], [3000, 4500]];
const A_DEPTH_RANGE = [[-0.6, 5.56], [-17, 210], [135, 1023], [818, 2521], [2214, 5021]];
const B_DEPTH_TICKS = [[1, 2, 3, 4, 5], [0, 50, 100, 150, 200], [200, 400, 600, 800, 1000], [1200, 1800, 2400], [2700, 3600, 4500]];
const B_DEPTH_RANGE = [[0.55, 5.16], [-17, 210], [100, 1032], [780, 2660], [2193, 4919]];
const A_Y_TICKS = [[3.6, 4.2, 4.8, 5.4, 6.0, 6.6], [4.8, 5.4, 6.0, 6.6], [4.5, 4.8, 5.1, 5.4, 5.7], [4.8, 5.1, 5.4, 5.7], [4.8, 5.0, 5.2, 5.4]];
const A_Y_RANGE = [[3.2, 6.97], [4.36, 6.92], [4.34, 5.89], [4.71, 5.89], [4.72, 5.5]];
const B_Y_TICKS = [[4, 6, 8, 10, 12], [4, 6, 8, 10], [6.0, 7.2, 8.4, 9.6], [7.6, 8.0, 8.4, 8.8], [8.0, 8.4, 8.8]];
const B_Y_RANGE = [[2.98, 12.8], [3.95, 10.7], [5.94, 9.96], [7.3, 9.12], [7.9, 8.92]];
const A_REF_LINES = [5.3, 5.0];
const B_REF_LINES = [8.7, 8.2];

// Summary boxes
const ZONES = ['0 - 5 m', '5 - 200 m', '200 - 1000 m', '1000 - 2500 m', '+2500 m'];
const N_VALUES = [362, 369, 225, 113, 71];
const MG_MEAN = ['5.103', '5.063', '5.090', '5.111', '5.090'];
const MG_SD = ['0.259', '0.422', '0.146', '0.150', '0.084'];
const MG_CV = ['5.078', '8.341', '2.861', '2.942', '1.655'];
const SR_MEAN = ['8.269', '8.181', '8.277', '8.404', '8.370'];
const SR_SD = ['0.511', '0.481', '0.293', '0.222', '0.365'];
const SR_CV = ['6.182', '5.878', '3.537', '2.642', '4.356'];

const A_DATA = [
  [A1_ocean, A1_longhurst, A1_ecosystem, A1_latitude, A1_longitude, A1_depth],
  [A2_ocean, A2_longhurst, A2_ecosystem, A2_latitude, A2_longitude, A2_depth],
  [A3_ocean, A3_longhurst, A3_ecosystem, A3_latitude, A3_longitude, A3_depth],
  [A4_ocean, A4_longhurst, A4_ecosystem, A4_latitude, A4_longitude, A4_depth],
  [A5_ocean, A5_longhurst, A5_ecosystem, A5_latitude, A5_longitude, A5_depth],
];
const B_DATA = [
  [B1_ocean, B1_longhurst, B1_ecosystem, B1_latitude, B1_longitude, B1_depth],
  [B2_ocean, B2_longhurst, B2_ecosystem, B2_latitude, B2_longitude, B2_depth],
  [B3_ocean, B3_longhurst, B3_ecosystem, B3_latitude, B3_longitude, B3_depth],
  [B4_ocean, B4_longhurst, B4_ecosystem, B4_latitude, B4_longitude, B4_depth],
  [B5_ocean, B5_longhurst, B5_ecosystem, B5_latitude, B5_longitude, B5_depth],
];

const flatten = (groups: number[][]) =>
  groups.flatMap(([x, ...ys]) => ys.map((y) => [x, y]));

// ---------- LAYOUT ----------
const FONT = 'Arial, "Liberation Sans", Helvetica, sans-serif';
const COL_LEFT = [60, 173, 286, 400, 513, 627];
const GRID_W = 107;
const GRID_H = 80;
const A_TOPS = [50, 152, 255, 357, 460];
const B_TOPS = [590, 692, 792, 895, 998];
const BOX_X = 738;
const BOX_W = 129;
const BOX_H = 82;
const A_BOX_TOPS = [50, 153, 256, 358, 462];
const B_BOX_TOPS = [588, 692, 794, 897, 1000];
const BOX_COLORS = ['#0b62c8', '#1a8cf1', '#2fa5f3', '#62b6f1', '#9dcdf4'];
const BOX_SUB_COLORS = ['#d2e6fb', '#c8e6ff', '#dff1ff', '#eaf5ff', '#e2f0fc'];
const AXIS_COLOR = '#b4b4b4';
const LABEL_COLOR = '#555';
const RED = '#ec9a9a';
const PINKGREY = '#d6c0c0';
const GREY = '#c6c6c6';

function buildOption() {
  const grid: any[] = [];
  const xAxis: any[] = [];
  const yAxis: any[] = [];
  const series: any[] = [];
  const graphic: any[] = [];

  const panels = [
    { data: A_DATA, tops: A_TOPS, yTicks: A_Y_TICKS, yRange: A_Y_RANGE, dTicks: A_DEPTH_TICKS, dRange: A_DEPTH_RANGE, lines: A_REF_LINES,
      lineColors: [[RED, PINKGREY], [RED, PINKGREY], [RED, RED], [GREY, GREY], [GREY, GREY]] },
    { data: B_DATA, tops: B_TOPS, yTicks: B_Y_TICKS, yRange: B_Y_RANGE, dTicks: B_DEPTH_TICKS, dRange: B_DEPTH_RANGE, lines: B_REF_LINES,
      lineColors: [[RED, RED], [RED, PINKGREY], [RED, RED], [RED, PINKGREY], [RED, PINKGREY]] },
  ];
  const xTicks = [OCEAN_TICKS, LONGHURST_TICKS, ECOSYSTEM_TICKS, LATITUDE_TICKS, LONGITUDE_TICKS];

  let idx = 0;
  panels.forEach((p, pi) => {
    for (let r = 0; r < 5; r++) {
      const decimals = pi === 1 && r < 2 ? 0 : 1;
      for (let c = 0; c < 6; c++) {
        grid.push({ left: COL_LEFT[c], top: p.tops[r], width: GRID_W, height: GRID_H, containLabel: false });
        const ticksX = c < 5 ? xTicks[c] : p.dTicks[r];
        const rangeX = c < 5 ? X_RANGES[c] : p.dRange[r];
        xAxis.push({
          gridIndex: idx, type: 'value', position: 'top', min: rangeX[0], max: rangeX[1],
          axisLine: { show: true, onZero: false, lineStyle: { color: AXIS_COLOR, width: 1 } },
          axisTick: { show: true, customValues: ticksX, length: 3, lineStyle: { color: AXIS_COLOR } },
          axisLabel: {
            customValues: ticksX, fontSize: c === 2 ? 7.6 : 8.5, color: LABEL_COLOR, margin: 3, fontFamily: FONT,
            hideOverlap: false, showMinLabel: true, showMaxLabel: true,
            formatter: (v: number) => String(v),
          },
          splitLine: { show: false },
        });
        yAxis.push({
          gridIndex: idx, type: 'value', min: p.yRange[r][0], max: p.yRange[r][1],
          axisLine: { show: true, onZero: false, lineStyle: { color: AXIS_COLOR, width: 1 } },
          axisTick: { show: true, customValues: p.yTicks[r], length: 3, lineStyle: { color: AXIS_COLOR } },
          axisLabel: {
            show: c === 0, customValues: p.yTicks[r], fontSize: 8.5, color: LABEL_COLOR, margin: 5, fontFamily: FONT,
            formatter: (v: number) => v.toFixed(decimals),
          },
          splitLine: { show: false },
        });
        // reference lines (drawn as plain line series across the x range)
        p.lines.forEach((lv, li) => {
          series.push({
            type: 'line', xAxisIndex: idx, yAxisIndex: idx,
            data: [[rangeX[0], lv], [rangeX[1], lv]],
            showSymbol: false, symbol: 'none', silent: true, z: 1,
            lineStyle: { color: p.lineColors[r][li], width: 1, type: 'solid', opacity: 1 },
            itemStyle: { color: p.lineColors[r][li] },
            emphasis: { disabled: true },
          });
        });
        series.push({
          type: 'scatter', xAxisIndex: idx, yAxisIndex: idx,
          data: flatten(p.data[r][c]),
          symbolSize: 5.5, itemStyle: { color: '#000', opacity: 1 }, silent: true,
          z: 3,
        });
        idx++;
      }
    }
  });

  // Panel letters & column titles
  graphic.push({ type: 'text', x: 11, y: 8, style: { text: 'A', fontSize: 31, fontFamily: FONT, fill: '#111' } });
  graphic.push({ type: 'text', x: 11, y: 549, style: { text: 'B', fontSize: 31, fontFamily: FONT, fill: '#111' } });
  COL_TITLES.forEach((t, c) => {
    [27, 566].forEach((y) => {
      graphic.push({
        type: 'text', x: COL_LEFT[c] + GRID_W / 2, y,
        style: { text: t, fontSize: 10, fontWeight: 'bold', fontFamily: FONT, fill: '#333', align: 'center', verticalAlign: 'middle' },
      });
    });
  });

  // Y-axis titles
  const yTitle = (x: number, y: number, pre: string, post: string) => ({
    type: 'text', x, y, rotation: Math.PI / 2,
    style: {
      text: `{a|${pre}}{s|SW}{a|${post}}`, align: 'center', verticalAlign: 'middle',
      rich: {
        a: { fontSize: 13.5, fontWeight: 'bold', fontFamily: FONT, fill: '#222' },
        s: { fontSize: 9, fontWeight: 'bold', fontFamily: FONT, fill: '#222', padding: [7, 0, 0, 0] },
      },
    },
  });
  graphic.push(yTitle(22, 290, 'Mg:Ca', ' (mol:mol)'));
  graphic.push(yTitle(22, 840, 'Sr:Ca', ' (mmol:mol)'));

  // Summary boxes
  const addBox = (top: number, r: number, mean: string, sd: string, cv: string) => {
    const cx = BOX_X + BOX_W / 2;
    const sub = BOX_SUB_COLORS[r];
    graphic.push({ type: 'rect', shape: { x: BOX_X, y: top, width: BOX_W, height: BOX_H }, style: { fill: BOX_COLORS[r] } });
    graphic.push({ type: 'text', x: cx, y: top + 16, style: { text: ZONES[r], fontSize: 14.5, fontWeight: 'bold', fontFamily: FONT, fill: r === 4 ? '#eef6fd' : '#ffffff', align: 'center', verticalAlign: 'middle' } });
    graphic.push({
      type: 'text', x: cx, y: top + 33,
      style: {
        text: `(${'{i|n}'}=${N_VALUES[r]})`, fontSize: 13.5, fontFamily: FONT, fill: sub, align: 'center', verticalAlign: 'middle',
        rich: { i: { fontSize: 13.5, fontStyle: 'italic', fontFamily: FONT, fill: sub } },
      },
    });
    graphic.push({ type: 'text', x: cx, y: top + 50, style: { text: `Mean = ${mean} \u00b1${sd}`, fontSize: 11.8, fontFamily: FONT, fill: sub, align: 'center', verticalAlign: 'middle' } });
    graphic.push({ type: 'text', x: cx, y: top + 66, style: { text: `CV =  ${cv}`, fontSize: 11.8, fontFamily: FONT, fill: sub, align: 'center', verticalAlign: 'middle' } });
  };
  for (let r = 0; r < 5; r++) {
    addBox(A_BOX_TOPS[r], r, MG_MEAN[r], MG_SD[r], MG_CV[r]);
    addBox(B_BOX_TOPS[r], r, SR_MEAN[r], SR_SD[r], SR_CV[r]);
  }

  return {
    animation: false,
    backgroundColor: '#f7f7f7',
    textStyle: { fontFamily: FONT },
    grid, xAxis, yAxis, series, graphic,
  };
}

export default function App() {
  const ref = useRef<HTMLDivElement>(null);
  useEffect(() => {
    if (!ref.current) return;
    const chart = echarts.init(ref.current, null, { renderer: 'svg' });
    chart.setOption(buildOption());
    return () => chart.dispose();
  }, []);
  return (
    <div
      ref={ref}
      style={{ position: 'absolute', left: 0, top: 0, width: 874, height: 1087, background: '#f7f7f7' }}
    />
  );
}
